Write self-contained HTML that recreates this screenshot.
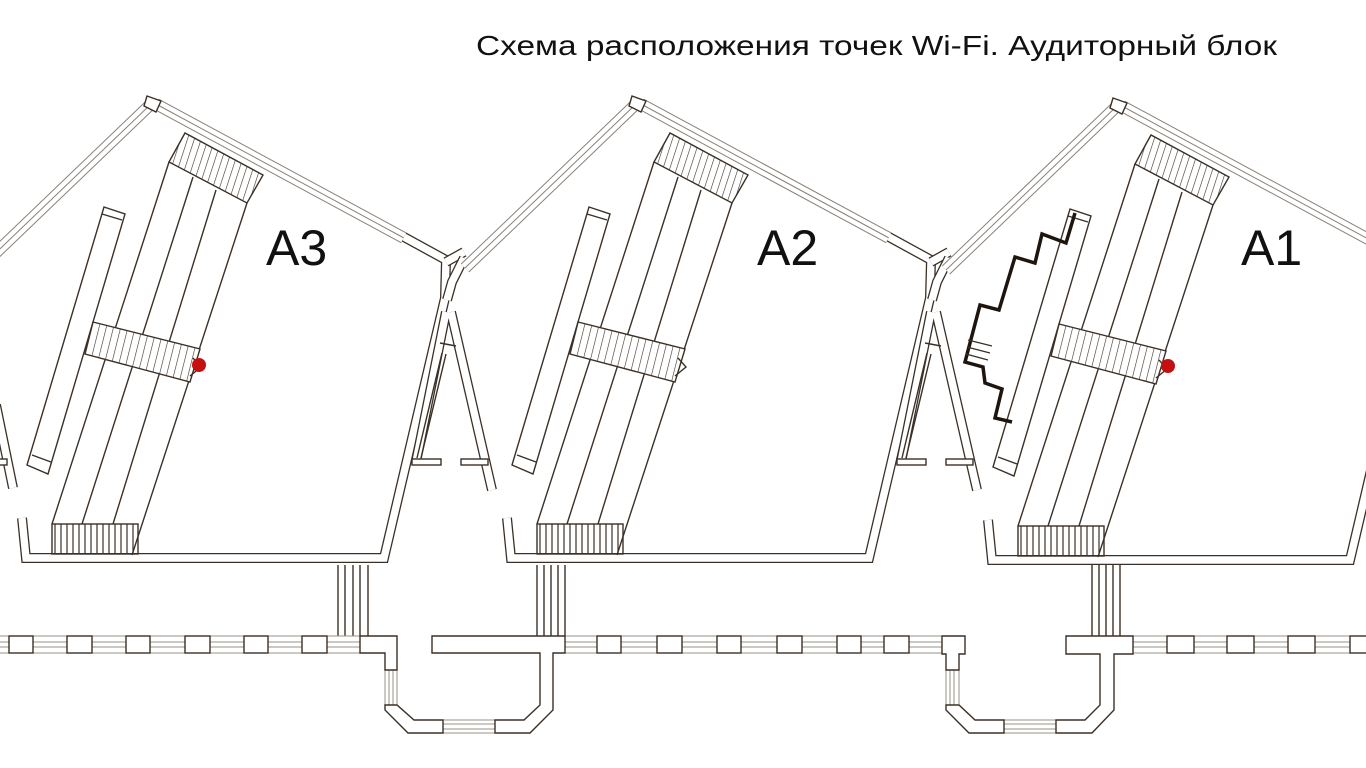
<!DOCTYPE html>
<html><head><meta charset="utf-8"><style>
html,body{margin:0;padding:0;background:#fff;width:1366px;height:768px;overflow:hidden}
svg{display:block}
.w{fill:none;stroke:#3b3026;stroke-width:10;stroke-linejoin:miter}
.wi{fill:none;stroke:#fff;stroke-width:7.4;stroke-linejoin:miter}
.l{fill:none;stroke:#3b3026;stroke-width:1.4}
.bo{fill:none;stroke:#8a8078;stroke-width:12}
.bi{fill:none;stroke:#fff;stroke-width:10}
.bc{fill:none;stroke:#8a8078;stroke-width:1}
.box{fill:#fff;stroke:#3b3026;stroke-width:1.4}
.g{stroke:#9a9088;stroke-width:1}
</style></head><body>
<svg width="1366" height="768" viewBox="0 0 1366 768" xmlns="http://www.w3.org/2000/svg">
<defs>
<pattern id="hp" width="6.5" height="20" patternUnits="userSpaceOnUse" patternTransform="rotate(18)">
<line x1="0" y1="0" x2="0" y2="20" stroke="#3b3026" stroke-width="1.2"/></pattern>
<pattern id="hm" width="7" height="20" patternUnits="userSpaceOnUse" patternTransform="rotate(14)">
<line x1="0" y1="0" x2="0" y2="20" stroke="#3b3026" stroke-width="1.2"/></pattern>
<pattern id="hv" width="6" height="20" patternUnits="userSpaceOnUse">
<line x1="1" y1="0" x2="1" y2="20" stroke="#3b3026" stroke-width="1.2"/></pattern>
<g id="blk">
<!-- glazed bands -->
<path class="bo" d="M151,104 L-20,268"/><path class="bi" d="M151,104 L-20,268"/><path class="bc" d="M151,104 L-20,268"/>
<path class="bo" d="M156,104 L404,238"/><path class="bi" d="M156,104 L404,238"/><path class="bc" d="M156,104 L404,238"/>
<polygon class="box" points="147,96 161,101 156,112 144,106"/>
<!-- room walls -->
<path class="w" d="M404,237 L446,260 L445,298 L384,558 L26,558 L22,518"/>
<path class="wi" d="M404,237 L446,260 L445,298 L384,558 L26,558 L22,518"/>
<path class="w" d="M446,262 L464,252"/><path class="wi" d="M446,262 L464,252"/>
<path class="w" d="M464,258 L452,282 L447,300"/><path class="wi" d="M464,258 L452,282 L447,300"/>
<!-- A frame -->
<path class="w" d="M446,312 L416,462 M451,312 L492,490"/><path class="wi" d="M446,312 L416,462 M451,312 L492,490"/>
<path class="l" d="M440,343 L456,346"/>
<path class="l" d="M442,353 L417,458 M446,354 L421,458"/>
<rect class="box" x="412" y="459" width="29" height="6"/><rect class="box" x="461" y="459" width="27" height="6"/>
<!-- left long bar -->
<polygon class="box" points="104,207 125,214 48,474 27,465"/>
<path class="l" d="M102,214 L122,220 M32,455 L51,462"/>
<!-- stairs -->
<polygon points="169,162 185,133 263,175 247,203" fill="url(#hp)" stroke="#3b3026" stroke-width="1.4"/>
<rect x="52" y="524" width="86" height="30" fill="url(#hv)" stroke="#3b3026" stroke-width="1.4"/>
<path class="l" d="M169,162 L52,524 M193,177 L82,524 M216,190 L113,524 M247,203 L132,555"/>
<polygon points="93,322 200,349 190,382 85,354" fill="#fff" stroke="#3b3026" stroke-width="1.4"/>
<polygon points="93,322 200,349 190,382 85,354" fill="url(#hm)"/>
<path class="l" d="M193,358 L201,367 L190,376"/>
</g>
</defs>

<text x="476" y="55" font-family="Liberation Sans, sans-serif" font-size="28" fill="#111" textLength="801" lengthAdjust="spacingAndGlyphs">Схема расположения точек Wi-Fi. Аудиторный блок</text>

<use href="#blk"/>
<use href="#blk" transform="translate(485,0)"/>
<use href="#blk" transform="translate(966,2)"/>

<!-- left partial A -->
<path class="w" d="M-4,405 L13,488"/><path class="wi" d="M-4,405 L13,488"/>
<rect class="box" x="-2" y="459" width="9" height="6"/>

<!-- A1 zigzag -->
<polyline points="1075,213 1066,243 1042,234 1035,263 1015,257 999,310 980,305 965,362 983,367 985,383 1002,389 995,418 1012,422" fill="none" stroke="#1e160e" stroke-width="3.5"/>
<path class="l" d="M968,340 L992,346 M967,347 L990,353 M966,354 L988,360"/>

<text x="266" y="265" font-family="Liberation Sans, sans-serif" font-size="50" fill="#111">A3</text>
<text x="757" y="265" font-family="Liberation Sans, sans-serif" font-size="50" fill="#111">A2</text>
<text x="1241" y="265" font-family="Liberation Sans, sans-serif" font-size="50" fill="#111">A1</text>

<circle cx="199" cy="365" r="7" fill="#c41010"/>
<circle cx="1168" cy="366" r="7" fill="#c41010"/>

<!-- vertical connectors -->
<g class="l">
<path d="M338,565 V636 M345,565 V636 M353,565 V636 M360,565 V636 M368,565 V636"/>
<path d="M537,565 V636 M544,565 V636 M551,565 V636 M558,565 V636 M565,565 V636"/>
<path d="M1092,565 V636 M1099,565 V636 M1106,565 V636 M1113,565 V636 M1120,565 V636"/>
</g>

<!-- corridor glazing -->
<g class="g">
<path d="M0,636 H360 M0,642 H360 M0,647 H360 M0,653 H360"/>
<path d="M565,636 H942 M565,642 H942 M565,647 H942 M565,653 H942"/>
<path d="M1133,636 H1366 M1133,642 H1366 M1133,647 H1366 M1133,653 H1366"/>
<path d="M385,670 V705 M389,670 V705 M393,670 V705 M397,670 V705"/>
<path d="M946,670 V705 M950,670 V705 M954,670 V705 M959,670 V705"/>
<path d="M443,720 H495 M443,724 H495 M443,729 H495 M443,733 H495"/>
<path d="M1004,720 H1056 M1004,724 H1056 M1004,729 H1056 M1004,733 H1056"/>
</g>
<g class="box">
<rect x="9" y="636" width="24" height="17"/><rect x="67" y="636" width="25" height="17"/>
<rect x="126" y="636" width="24" height="17"/><rect x="185" y="636" width="25" height="17"/>
<rect x="244" y="636" width="24" height="17"/><rect x="302" y="636" width="25" height="17"/>
<rect x="597" y="636" width="24" height="17"/><rect x="657" y="636" width="25" height="17"/>
<rect x="717" y="636" width="24" height="17"/><rect x="777" y="636" width="25" height="17"/>
<rect x="837" y="636" width="24" height="17"/><rect x="884" y="636" width="25" height="17"/>
<rect x="1167" y="636" width="27" height="17"/><rect x="1227" y="636" width="27" height="17"/>
<rect x="1288" y="636" width="27" height="17"/><rect x="1350" y="636" width="27" height="17"/>
<path d="M360,636 H397 V670 H385 V653 H360 Z"/>
<path d="M432,636 H565 V653 H553 V710 L530,733 H495 V720 H524 L540,705 V653 H432 Z"/>
<path d="M385,705 H397 L414,720 H443 V733 H408 L385,710 Z"/>
<path d="M942,636 H965 V654 H959 V670 H946 V654 H942 Z"/>
<path d="M946,705 H959 L975,720 H1004 V733 H969 L946,710 Z"/>
<path d="M1066,636 H1133 V654 H1114 V710 L1092,733 H1056 V720 H1085 L1100,705 V654 H1066 Z"/>
</g>
</svg>
</body></html>
